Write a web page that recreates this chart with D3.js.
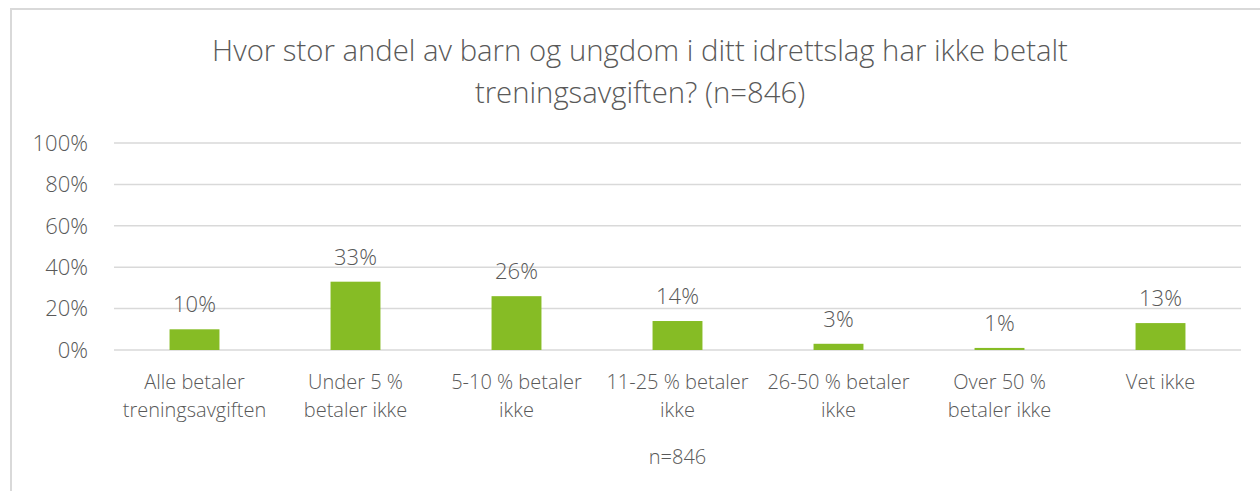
<!DOCTYPE html>
<html>
<head>
<meta charset="utf-8">
<script src="https://cdn.jsdelivr.net/npm/d3@7"></script>
<style>
 body { margin: 0; background: #fff; }
 svg text { font-family: "Open Sans", sans-serif; font-weight: 300; fill: #595959; }
</style>
</head>
<body>
<svg width="1260" height="491"></svg>
<script>
 // data
 var categories = [
   ["Alle betaler", "treningsavgiften"],
   ["Under 5 %", "betaler ikke"],
   ["5-10 % betaler", "ikke"],
   ["11-25 % betaler", "ikke"],
   ["26-50 % betaler", "ikke"],
   ["Over 50 %", "betaler ikke"],
   ["Vet ikke"]
 ];
 var values = [10, 33, 26, 14, 3, 1, 13];
 var yTicks = [0, 20, 40, 60, 80, 100];
 var titleLines = ["Hvor stor andel av barn og ungdom i ditt idrettslag har ikke betalt", "treningsavgiften? (n=846)"];
 var axisTitle = "n=846";

 var svg = d3.select("svg");

 // chart border (runs off the right and bottom edges)
 svg.append("rect")
   .attr("x", 11).attr("y", 9)
   .attr("width", 1280).attr("height", 520)
   .attr("fill", "none")
   .attr("stroke", "#d9d9d9")
   .attr("stroke-width", 2);

 var plotL = 114, plotR = 1241, plotT = 143, plotB = 350;

 var x = d3.scaleBand()
   .domain(d3.range(categories.length))
   .range([plotL, plotR])
   .paddingInner(0.69)
   .paddingOuter(0.345);

 var band = d3.scaleBand().domain(d3.range(categories.length)).range([plotL, plotR]);

 var y = d3.scaleLinear().domain([0, 100]).range([plotB, plotT]);

 // title
 svg.append("g").selectAll("text")
   .data(titleLines)
   .enter()
   .append("text")
   .attr("x", 640)
   .attr("y", (d, i) => 61 + i * 42)
   .attr("text-anchor", "middle")
   .style("font-size", "29.3px")
   .text(d => d);

 // gridlines + y labels
 var yAxis = svg.append("g");
 yAxis.selectAll("line")
   .data(yTicks)
   .enter()
   .append("line")
   .attr("x1", plotL).attr("x2", plotR)
   .attr("y1", d => y(d)).attr("y2", d => y(d))
   .attr("stroke", "#d9d9d9")
   .attr("stroke-width", 1.5);

 yAxis.selectAll("text")
   .data(yTicks)
   .enter()
   .append("text")
   .attr("x", 88)
   .attr("y", d => y(d))
   .attr("dy", "0.35em")
   .attr("text-anchor", "end")
   .style("font-size", "22px")
   .text(d => d + "%");

 // bars
 svg.append("g").selectAll("rect")
   .data(values)
   .enter()
   .append("rect")
   .attr("x", (d, i) => x(i))
   .attr("width", x.bandwidth())
   .attr("y", d => y(d))
   .attr("height", d => y(0) - y(d))
   .attr("fill", "#86bc25");

 // data labels
 svg.append("g").selectAll("text")
   .data(values)
   .enter()
   .append("text")
   .attr("x", (d, i) => band(i) + band.bandwidth() / 2)
   .attr("y", d => y(d) - 17)
   .attr("text-anchor", "middle")
   .style("font-size", "22px")
   .text(d => d + "%");

 // category labels
 var cats = svg.append("g").selectAll("text")
   .data(categories)
   .enter()
   .append("text")
   .attr("text-anchor", "middle")
   .style("font-size", "20px");

 cats.selectAll("tspan")
   .data((d, i) => d.map(t => ({ t: t, i: i })))
   .enter()
   .append("tspan")
   .attr("x", d => band(d.i) + band.bandwidth() / 2)
   .attr("y", (d, j) => 389 + j * 28)
   .text(d => d.t);

 // axis title
 svg.append("text")
   .attr("x", (plotL + plotR) / 2)
   .attr("y", 464)
   .attr("text-anchor", "middle")
   .style("font-size", "20px")
   .text(axisTitle);
</script>
</body>
</html>
